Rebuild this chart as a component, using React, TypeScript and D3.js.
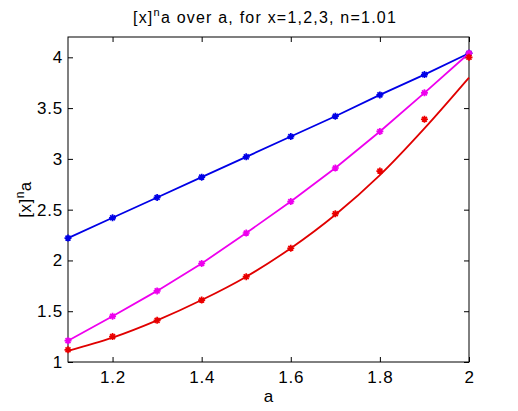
import { useEffect, useRef } from 'react';
import * as d3 from 'd3';

// a values shared by every series
const aValues = [1.1, 1.2, 1.3, 1.4, 1.5, 1.6, 1.7, 1.8, 1.9, 2.0];
// x = 1 (blue), x = 2 (magenta), x = 3 (red markers)
const seriesX1 = [2.22, 2.42, 2.62, 2.82, 3.02, 3.22, 3.42, 3.63, 3.83, 4.04];
const seriesX2 = [1.21, 1.45, 1.7, 1.97, 2.27, 2.58, 2.91, 3.27, 3.65, 4.04];
const seriesX3 = [1.12, 1.25, 1.41, 1.61, 1.84, 2.12, 2.46, 2.88, 3.39, 4.0];
// red reference curve drawn without markers
const curveX3 = [1.11, 1.24, 1.41, 1.61, 1.84, 2.12, 2.45, 2.84, 3.3, 3.8];

const xTicks = [1.2, 1.4, 1.6, 1.8, 2];
const yTicks = [1, 1.5, 2, 2.5, 3, 3.5, 4];

const width = 518;
const height = 411;
const margin = { top: 37, right: 49, bottom: 49, left: 68 };
const font = '"Liberation Sans", Arial, sans-serif';

export default function App() {
  const svgRef = useRef<SVGSVGElement>(null);

  useEffect(() => {
    if (!svgRef.current) return;
    const svg = d3.select(svgRef.current);
    svg.selectAll('*').remove();

    const x = d3.scaleLinear().domain([1.1, 2]).range([margin.left, width - margin.right]);
    const y = d3.scaleLinear().domain([1, 4.2]).range([height - margin.bottom, margin.top]);

    svg.append('rect').attr('width', width).attr('height', height).attr('fill', '#fff');

    // axes box with inward ticks on all sides
    const styleAxis = (g: any) => {
      g.select('.domain').remove();
      g.selectAll('line').attr('stroke', '#000');
      g.selectAll('text')
        .attr('fill', '#000')
        .style('font-family', font)
        .style('font-size', '17px')
        .style('letter-spacing', '0.8px');
    };

    svg
      .append('g')
      .attr('transform', `translate(0,${height - margin.bottom})`)
      .call(d3.axisBottom(x).tickValues(xTicks).tickSizeInner(-5).tickSizeOuter(0).tickPadding(9).tickFormat(d3.format('')))
      .call(styleAxis);
    svg
      .append('g')
      .attr('transform', `translate(0,${margin.top})`)
      .call(d3.axisTop(x).tickValues(xTicks).tickSizeInner(-5).tickSizeOuter(0).tickFormat(() => ''))
      .call(styleAxis);
    svg
      .append('g')
      .attr('transform', `translate(${margin.left},0)`)
      .call(d3.axisLeft(y).tickValues(yTicks).tickSizeInner(-5).tickSizeOuter(0).tickPadding(5).tickFormat(d3.format('')))
      .call(styleAxis);
    svg
      .append('g')
      .attr('transform', `translate(${width - margin.right},0)`)
      .call(d3.axisRight(y).tickValues(yTicks).tickSizeInner(-5).tickSizeOuter(0).tickFormat(() => ''))
      .call(styleAxis);

    svg
      .append('rect')
      .attr('x', margin.left)
      .attr('y', margin.top)
      .attr('width', width - margin.left - margin.right)
      .attr('height', height - margin.top - margin.bottom)
      .attr('fill', 'none')
      .attr('stroke', '#000');

    const line = d3
      .line<number>()
      .x((_, i) => x(aValues[i]))
      .y((d) => y(d));

    const star = (r: number) => {
      const k = r * 0.7;
      return `M${-r},0H${r}M0,${-r}V${r}M${-k},${-k}L${k},${k}M${-k},${k}L${k},${-k}`;
    };

    const drawMarkers = (vals: number[], color: string) => {
      svg
        .append('g')
        .selectAll('path')
        .data(vals)
        .enter()
        .append('path')
        .attr('transform', (d, i) => `translate(${x(aValues[i])},${y(d)})`)
        .attr('d', star(3.5))
        .attr('stroke', color)
        .attr('stroke-width', 1.7)
        .attr('fill', 'none');
    };

    const drawLine = (vals: number[], color: string, smooth = false) => {
      svg
        .append('path')
        .datum(vals)
        .attr('fill', 'none')
        .attr('stroke', color)
        .attr('stroke-width', 1.8)
        .attr('d', smooth ? line.curve(d3.curveMonotoneX)(vals) : line(vals));
    };

    drawLine(seriesX1, '#0000e6');
    drawMarkers(seriesX1, '#0000e6');
    drawLine(seriesX2, '#ee00ee');
    drawMarkers(seriesX2, '#ee00ee');
    drawMarkers(seriesX3, '#ee0000');
    drawLine(curveX3, '#e00000', true);

    // title, stretched to the reference width and centred over the plot
    const title = svg
      .append('text')
      .attr('x', 0)
      .attr('y', 23)
      .style('font-family', font)
      .style('font-size', '16px');
    title.append('tspan').text('[x]');
    title.append('tspan').attr('dy', -7).style('font-size', '11px').text('n');
    title.append('tspan').attr('dy', 7).text('a over a, for x=1,2,3, n=1.01');
    const tNode = title.node() as SVGTextElement;
    const nChars = tNode.getNumberOfChars();
    const baseW = tNode.getComputedTextLength();
    const targetW = 264;
    title.style('letter-spacing', `${(targetW - baseW) / nChars}px`);
    title.attr('x', 265 - targetW / 2);

    // x label
    svg
      .append('text')
      .attr('x', (margin.left + width - margin.right) / 2)
      .attr('y', 402)
      .attr('text-anchor', 'middle')
      .style('font-family', font)
      .style('font-size', '17px')
      .text('a');

    // y label
    const ylab = svg
      .append('text')
      .attr('transform', `translate(31,${(margin.top + height - margin.bottom) / 2}) rotate(-90)`)
      .attr('text-anchor', 'middle')
      .style('font-family', font)
      .style('font-size', '17px')
      .style('letter-spacing', '0.5px');
    ylab.append('tspan').text('[x]');
    ylab.append('tspan').attr('dy', -7).style('font-size', '12px').text('n');
    ylab.append('tspan').attr('dy', 7).text('a');
  }, []);

  return (
    <div style={{ position: 'fixed', left: 0, top: 0 }}>
      <svg ref={svgRef} width={width} height={height} style={{ display: 'block' }} />
    </div>
  );
}
